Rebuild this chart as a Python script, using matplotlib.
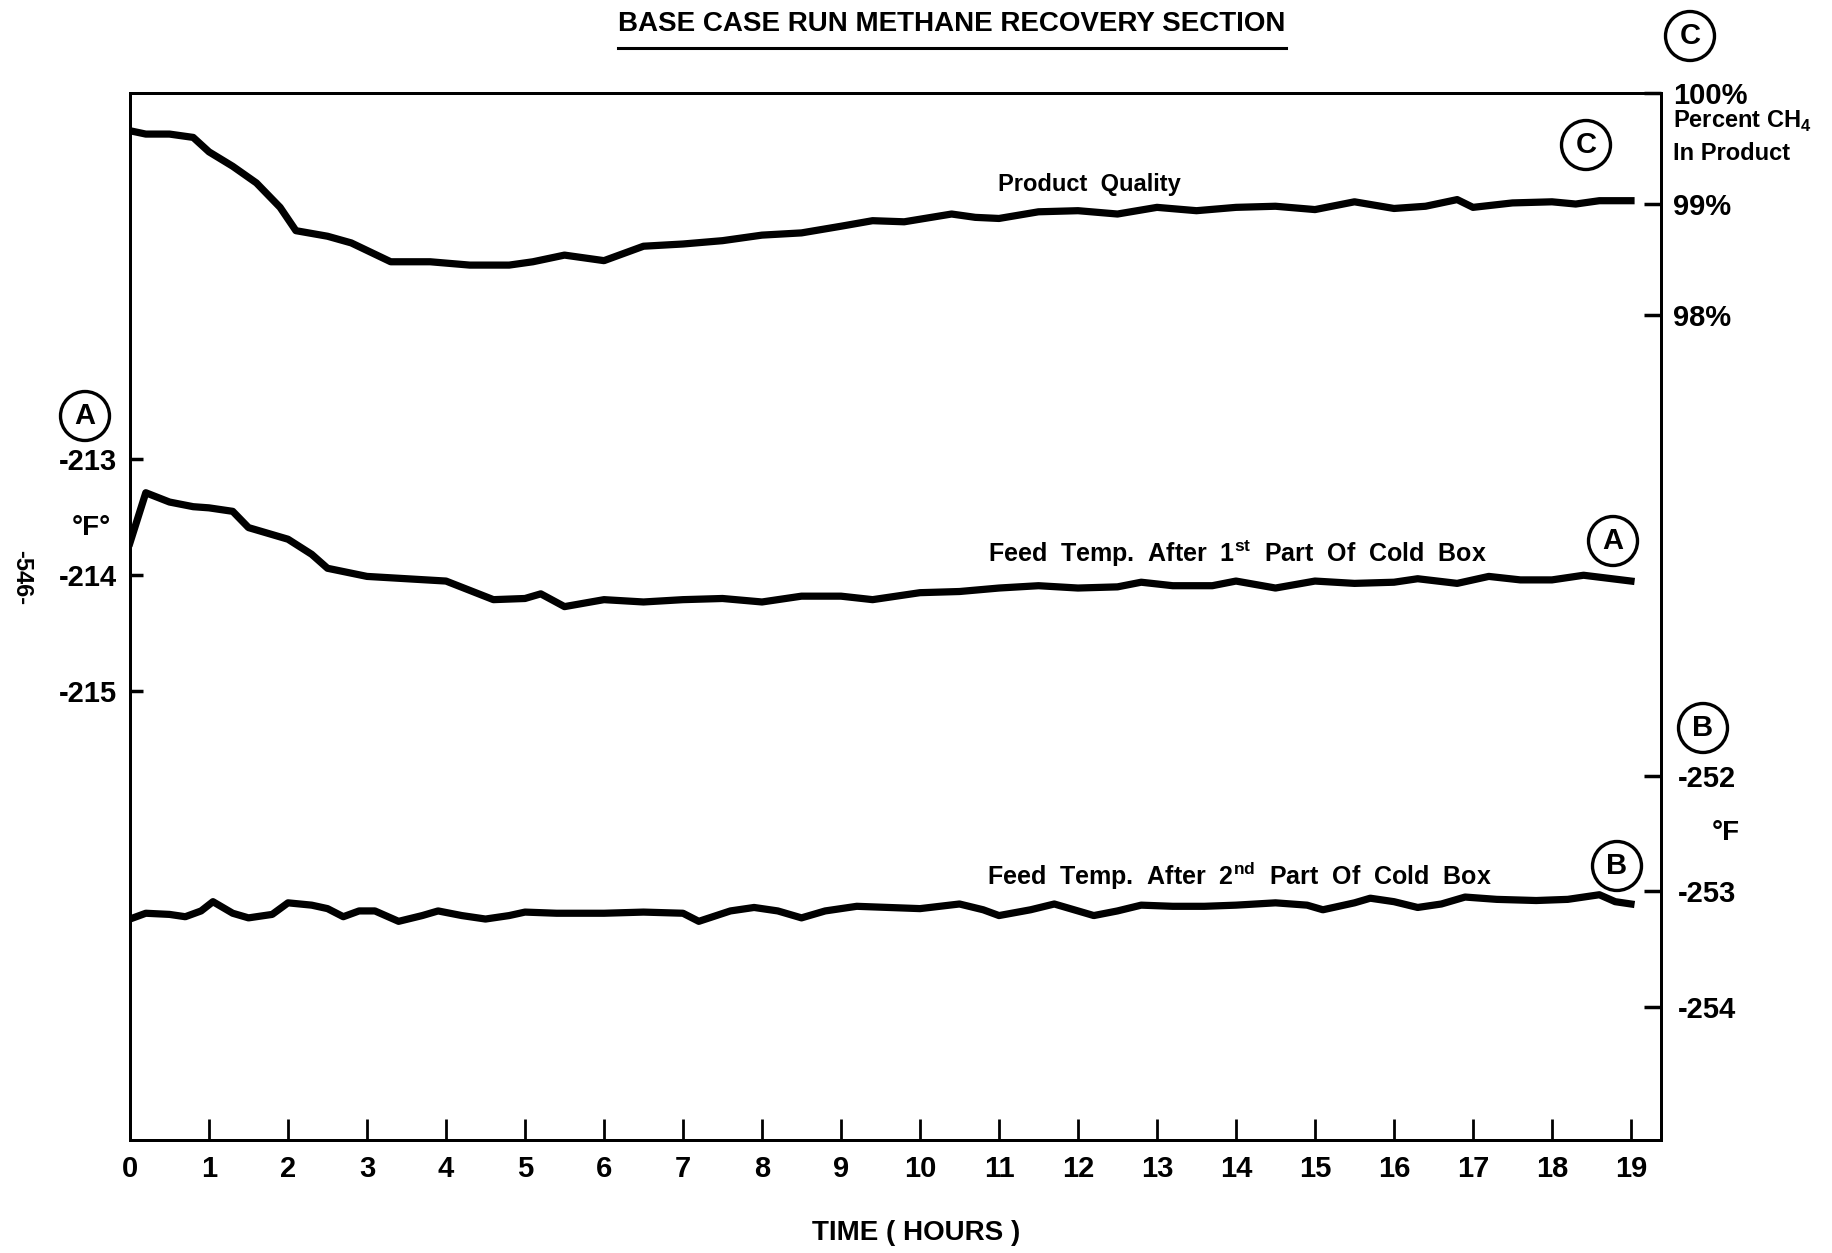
# base case run, methane recovery section
# three traces on one frame, each with its own scale (A left, B and C right)

import matplotlib
matplotlib.use('Agg')
import matplotlib.pyplot as plt
from matplotlib.lines import Line2D

W, H = 1832, 1253

plt.rcParams['font.family'] = ['Liberation Sans', 'DejaVu Sans']
plt.rcParams['font.weight'] = 'bold'
plt.rcParams['mathtext.fontset'] = 'custom'
plt.rcParams['mathtext.rm'] = 'Liberation Sans:bold'

# time axis
X_TICKS = list(range(0, 20))

# C : product quality, percent CH4 in product
HOURS_C = [0.0, 0.2, 0.5, 0.8, 1.0, 1.3, 1.6, 1.9, 2.1, 2.5, 2.8, 3.3, 3.8, 4.3, 4.8,
           5.1, 5.5, 6.0, 6.5, 7.0, 7.5, 8.0, 8.5, 9.0, 9.4, 9.8, 10.4, 10.7, 11.0,
           11.5, 12.0, 12.5, 13.0, 13.5, 14.0, 14.5, 15.0, 15.5, 16.0, 16.4, 16.8,
           17.0, 17.5, 18.0, 18.3, 18.6, 19.0]
QUALITY = [99.66, 99.63, 99.63, 99.60, 99.47, 99.34, 99.19, 98.97, 98.76, 98.71, 98.65,
           98.48, 98.48, 98.45, 98.45, 98.48, 98.54, 98.49, 98.62, 98.64, 98.67, 98.72,
           98.74, 98.80, 98.85, 98.84, 98.91, 98.88, 98.87, 98.93, 98.94, 98.91, 98.97,
           98.94, 98.97, 98.98, 98.95, 99.02, 98.96, 98.98, 99.04, 98.97, 99.01, 99.02,
           99.00, 99.03, 99.03]

# A : feed temp after 1st part of cold box (deg F)
HOURS_A = [0.0, 0.2, 0.5, 0.8, 1.0, 1.3, 1.5, 1.8, 2.0, 2.3, 2.5, 3.0, 3.5, 4.0, 4.3,
           4.6, 5.0, 5.2, 5.5, 6.0, 6.5, 7.0, 7.5, 8.0, 8.5, 9.0, 9.4, 10.0, 10.5,
           11.0, 11.5, 12.0, 12.5, 12.8, 13.2, 13.7, 14.0, 14.5, 15.0, 15.5, 16.0,
           16.3, 16.8, 17.2, 17.6, 18.0, 18.4, 19.0]
TEMP_A = [-213.72, -213.29, -213.37, -213.41, -213.42, -213.45, -213.59, -213.65,
          -213.69, -213.82, -213.94, -214.01, -214.03, -214.05, -214.13, -214.21,
          -214.20, -214.16, -214.27, -214.21, -214.23, -214.21, -214.20, -214.23,
          -214.18, -214.18, -214.21, -214.15, -214.14, -214.11, -214.09, -214.11,
          -214.10, -214.06, -214.09, -214.09, -214.05, -214.11, -214.05, -214.07,
          -214.06, -214.03, -214.07, -214.01, -214.04, -214.04, -214.00, -214.05]

# B : feed temp after 2nd part of cold box (deg F)
HOURS_B = [0.0, 0.2, 0.5, 0.7, 0.9, 1.05, 1.3, 1.5, 1.8, 2.0, 2.3, 2.5, 2.7, 2.9, 3.1,
           3.4, 3.7, 3.9, 4.2, 4.5, 4.8, 5.0, 5.4, 6.0, 6.5, 7.0, 7.2, 7.6, 7.9, 8.2,
           8.5, 8.8, 9.2, 9.6, 10.0, 10.5, 10.8, 11.0, 11.4, 11.7, 12.0, 12.2, 12.5,
           12.8, 13.2, 13.6, 14.0, 14.5, 14.9, 15.1, 15.5, 15.7, 16.0, 16.3, 16.6,
           16.9, 17.3, 17.8, 18.2, 18.6, 18.8, 19.0]
TEMP_B = [-253.24, -253.19, -253.20, -253.22, -253.17, -253.09, -253.19, -253.23,
          -253.20, -253.10, -253.12, -253.15, -253.22, -253.17, -253.17, -253.26,
          -253.21, -253.17, -253.21, -253.24, -253.21, -253.18, -253.19, -253.19,
          -253.18, -253.19, -253.26, -253.17, -253.14, -253.17, -253.23, -253.17,
          -253.13, -253.14, -253.15, -253.11, -253.16, -253.21, -253.16, -253.11,
          -253.17, -253.21, -253.17, -253.12, -253.13, -253.13, -253.12, -253.10,
          -253.12, -253.16, -253.10, -253.06, -253.09, -253.14, -253.11, -253.05,
          -253.07, -253.08, -253.07, -253.03, -253.09, -253.11]

A_TICKS = [-213, -214, -215]
B_TICKS = [-252, -253, -254]
C_TICKS = [98, 99, 100]
C_LABELS = ['98%', '99%', '100%']


def px(x, y):
    # full-size pixel -> figure fraction
    return x / W, 1 - y / H


def circled(x, y, letter, size=21):
    fx, fy = px(x, y)
    fig.text(fx, fy, letter, ha='center', va='center', fontsize=size,
             bbox=dict(boxstyle='circle,pad=0.36', fc='none', ec='black', lw=2.4))


fig = plt.figure(figsize=(W / 100, H / 100), dpi=100)
left, top, right, bottom = 130, 93, 1661, 1140
ax = fig.add_axes([left / W, 1 - bottom / H, (right - left) / W, (bottom - top) / H])
axB = ax.twinx()
axC = ax.twinx()

ax.set_xlim(0, 19.38)
ax.set_ylim(-218.86, -209.85)
axB.set_ylim(-255.15, -246.10)
axC.set_ylim(90.57, 100.0)

LW = 5.2
ax.plot(HOURS_A, TEMP_A, color='black', lw=LW, solid_joinstyle='round')
axB.plot(HOURS_B, TEMP_B, color='black', lw=LW, solid_joinstyle='round')
axC.plot(HOURS_C, QUALITY, color='black', lw=LW, solid_joinstyle='round')

for a in (ax, axB, axC):
    for s in a.spines.values():
        s.set_linewidth(2.0)

ax.set_xticks(X_TICKS)
ax.set_xticklabels([str(h) for h in X_TICKS], fontsize=21)
ax.tick_params(axis='x', direction='in', length=15, width=2, pad=11)

ax.set_yticks(A_TICKS)
ax.set_yticklabels([str(t) for t in A_TICKS], fontsize=21)
ax.tick_params(axis='y', direction='in', length=9, width=2.5, pad=9)

axB.set_yticks(B_TICKS)
axB.set_yticklabels([str(t) for t in B_TICKS], fontsize=21)
axB.tick_params(axis='y', direction='in', length=12, width=2.5, pad=12)

axC.set_yticks(C_TICKS)
axC.set_yticklabels(C_LABELS, fontsize=21)
axC.tick_params(axis='y', direction='in', length=12, width=2.5, pad=9)

# title, underlined to its own width
title = fig.text(*px(952, 24), 'BASE CASE RUN METHANE RECOVERY SECTION', ha='center',
                 va='center', fontsize=20)
fig.canvas.draw()
bb = title.get_window_extent().transformed(fig.transFigure.inverted())
fig.add_artist(Line2D([bb.x0, bb.x1], [1 - 48 / H, 1 - 48 / H], color='black', lw=2.2))

# right axis labels
fig.text(*px(1673, 121), 'Percent CH$_4$', ha='left', va='center', fontsize=17)
fig.text(*px(1673, 153), 'In Product', ha='left', va='center', fontsize=17)
fig.text(*px(1712, 833), '\u00b0F', ha='left', va='center', fontsize=20)
fig.text(*px(91, 528), '\u00b0F\u00b0', ha='center', va='center', fontsize=20)
fig.text(*px(22, 578), '-546-', ha='center', va='center', fontsize=17, rotation=-90)

circled(1690, 36, 'C')
circled(1586, 145, 'C')
circled(85, 416, 'A')
circled(1613, 541, 'A')
circled(1703, 728, 'B')
circled(1617, 866, 'B')

# curve labels
fig.text(*px(1089, 184), 'Product  Quality', ha='center', va='center', fontsize=17)
fig.text(*px(988, 554), 'Feed  Temp.  After  1$^{\\mathrm{st}}$  Part  Of  Cold  Box',
         ha='left', va='center', fontsize=18)
fig.text(*px(987, 876), 'Feed  Temp.  After  2$^{\\mathrm{nd}}$  Part  Of  Cold  Box',
         ha='left', va='center', fontsize=18)

fig.text(*px(916, 1233), 'TIME ( HOURS )', ha='center', va='center', fontsize=20)

fig.savefig('out.png', dpi=100, facecolor='white')
